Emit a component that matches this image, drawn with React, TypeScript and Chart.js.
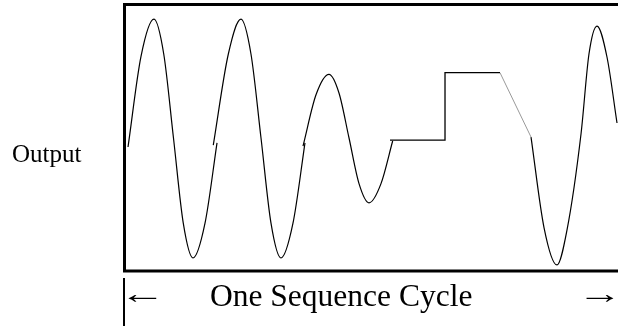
import React, { useEffect, useRef } from "react";
import { Chart, registerables } from "chart.js";

Chart.register(...registerables);

// Time axis: one sequence cycle spans 0..100; output is normalised amplitude.
const cycle1T = [0.41, 3.05, 5.69, 7.67, 9.65, 11.64, 13.62, 16.06, 18.5];
const cycle1V = [-0.075, 0.68, 0.99, 0.7, 0.0, -0.71, -1.0, -0.71, -0.04];

const cycle2T = [17.74, 20.8, 23.37, 25.4, 27.44, 29.47, 31.5, 33.94, 36.38];
const cycle2V = [-0.06, 0.7, 0.99, 0.7, 0.0, -0.71, -1.0, -0.71, -0.04];

const cycle3T = [35.98, 38.62, 41.26, 43.29, 45.33, 47.36, 49.39, 51.83, 54.2];
const cycle3V = [-0.067, 0.36, 0.53, 0.375, 0.0, -0.38, -0.54, -0.38, -0.025];

const stepT = [53.66, 64.84, 64.84, 76.02];
const stepV = [-0.017, -0.017, 0.544, 0.544];

const rampT = [76.02, 82.32];
const rampV = [0.544, 0.008];

const cycle4T = [82.32, 84.96, 87.6, 89.63, 92.5, 94.1, 95.73, 97.76, 99.8];
const cycle4V = [0.008, -0.746, -1.058, -0.767, 0.04, 0.7, 0.933, 0.675, 0.125];

const yLabel = "Output";
const xLabel = "One Sequence Cycle";
const leftArrow = "\u2190";
const rightArrow = "\u2192";

const toPts = (t: number[], v: number[]) => t.map((x, i) => ({ x, y: v[i] }));

const SERIF = '"Liberation Serif", "Times New Roman", serif';

function drawStretched(ctx: CanvasRenderingContext2D, text: string, left: number, right: number, baseline: number) {
  const m = ctx.measureText(text);
  const inkL = -m.actualBoundingBoxLeft;
  const inkW = m.actualBoundingBoxRight + m.actualBoundingBoxLeft || m.width;
  const sx = (right - left) / inkW;
  ctx.save();
  ctx.translate(left, baseline);
  ctx.scale(sx, 1);
  ctx.fillText(text, -inkL, 0);
  ctx.restore();
}

const framePlugin = {
  id: "frame",
  afterDraw(chart: any) {
    const ctx = chart.ctx as CanvasRenderingContext2D;
    ctx.save();
    ctx.strokeStyle = "#000";
    ctx.lineWidth = 3;
    ctx.beginPath();
    ctx.moveTo(618, 4.5);
    ctx.lineTo(124.5, 4.5);
    ctx.lineTo(124.5, 271);
    ctx.lineTo(618, 271);
    ctx.stroke();
    ctx.lineWidth = 2;
    ctx.beginPath();
    ctx.moveTo(124, 278);
    ctx.lineTo(124, 326);
    ctx.stroke();

    ctx.fillStyle = "#000";
    ctx.textBaseline = "alphabetic";
    ctx.textAlign = "left";
    ctx.font = `25px ${SERIF}`;
    ctx.fillText(yLabel, 12, 162);

    ctx.font = `31.5px ${SERIF}`;
    ctx.fillText(xLabel, 210, 306);

    ctx.font = `28px ${SERIF}`;
    drawStretched(ctx, leftArrow, 127, 157, 303);
    drawStretched(ctx, rightArrow, 585, 614, 303);
    ctx.restore();
  },
};

export default function App() {
  const ref = useRef<HTMLCanvasElement | null>(null);
  useEffect(() => {
    if (!ref.current) return;
    const curve = {
      borderColor: "#000",
      borderWidth: 1.2,
      pointRadius: 0,
      fill: false,
      cubicInterpolationMode: "monotone" as const,
    };
    const chart = new Chart(ref.current, {
      type: "line",
      data: {
        datasets: [
          { ...curve, data: toPts(cycle1T, cycle1V) },
          { ...curve, data: toPts(cycle2T, cycle2V) },
          { ...curve, data: toPts(cycle3T, cycle3V) },
          { borderColor: "#000", borderWidth: 1.3, pointRadius: 0, fill: false, tension: 0, data: toPts(stepT, stepV) },
          { borderColor: "#999", borderWidth: 1, pointRadius: 0, fill: false, tension: 0, data: toPts(rampT, rampV) },
          { ...curve, data: toPts(cycle4T, cycle4V) },
        ],
      },
      options: {
        responsive: false,
        animation: false,
        events: [],
        layout: { padding: { left: 126, right: 0, top: 6, bottom: 56 } },
        scales: {
          x: { type: "linear", min: 0, max: 100, display: false },
          y: { type: "linear", min: -1.1, max: 1.1, display: false },
        },
        plugins: { legend: { display: false }, tooltip: { enabled: false } },
      },
      plugins: [framePlugin],
    });
    return () => chart.destroy();
  }, []);
  return (
    <div style={{ position: "absolute", left: 0, top: 0, width: 618, height: 326, background: "#fff" }}>
      <canvas ref={ref} width={618} height={326} />
    </div>
  );
}
